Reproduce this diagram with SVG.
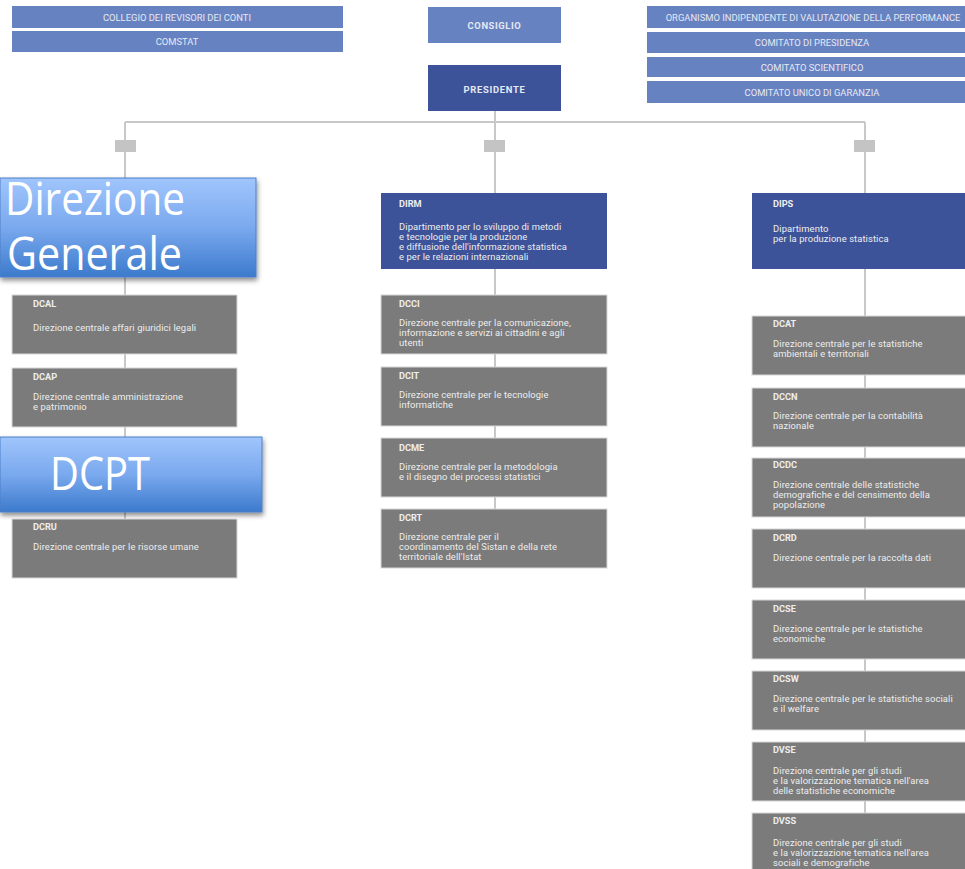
<svg xmlns="http://www.w3.org/2000/svg" width="965" height="869" viewBox="0 0 965 869">
<defs>
<linearGradient id="gb" x1="0" y1="0" x2="0" y2="1">
<stop offset="0" stop-color="#a0c5fc"/>
<stop offset="0.5" stop-color="#7aa9ee"/>
<stop offset="1" stop-color="#3c7acc"/>
</linearGradient>
<filter id="sh" x="-10%" y="-10%" width="120%" height="130%">
<feDropShadow dx="1" dy="3" stdDeviation="2.5" flood-color="#000" flood-opacity="0.45"/>
</filter>
</defs>
<style>
.top{fill:#6682c1}
.pres{fill:#3d5399}
.dep{fill:#3d5399}
.box{fill:#7b7b7b;stroke:#d8d8d8;stroke-width:1}
.conn{stroke:#c8c8c8;stroke-width:2;fill:none}
.knot{fill:#c4c4c4}
.tt{font-family:Roboto,"Liberation Sans",sans-serif;font-size:9.4px;fill:#e6e9f3;text-anchor:middle}
.code{font-family:Roboto,"Liberation Sans",sans-serif;font-size:9.2px;font-weight:bold;fill:#eeeeee}
.desc{font-family:Roboto,"Liberation Sans",sans-serif;font-size:9.4px;letter-spacing:0.1px;fill:#eeeeee}
.big{font-family:"Open Sans","Liberation Sans",sans-serif;font-size:45px;fill:#ffffff}
.gbox{fill:url(#gb);stroke:#4d80c8;stroke-width:1}
</style>
<rect width="965" height="869" fill="#ffffff"/>

<g id="connectors">
<path class="conn" d="M495 111 V122 M125 122 H865 M125 122 V578 M495 122 V568 M865 122 V869"/>
<rect class="knot" x="115" y="140" width="21" height="12"/>
<rect class="knot" x="484" y="140" width="21" height="12"/>
<rect class="knot" x="854" y="140" width="21" height="12"/>
</g>

<g id="collegio"><rect class="top" x="12" y="6" width="331" height="22"/><text class="tt" x="177" y="20.5">COLLEGIO DEI REVISORI DEI CONTI</text></g>
<g id="comstat"><rect class="top" x="12" y="31" width="331" height="21"/><text class="tt" x="177" y="45">COMSTAT</text></g>
<g id="consiglio"><rect class="top" x="428" y="7" width="133" height="36"/><text class="tt" x="494.5" y="29" font-weight="bold" font-size="9.8" letter-spacing="0.6">CONSIGLIO</text></g>
<g id="presidente"><rect class="pres" x="428" y="65" width="133" height="46"/><text class="tt" x="494.5" y="93" font-weight="bold" font-size="11.2" letter-spacing="0.7">PRESIDENTE</text></g>
<g id="oiv"><rect class="top" x="647" y="6" width="318" height="22"/><text class="tt" x="813" y="20.5">ORGANISMO INDIPENDENTE DI VALUTAZIONE DELLA PERFORMANCE</text></g>
<g id="presidenza"><rect class="top" x="647" y="32" width="318" height="21"/><text class="tt" x="812" y="46">COMITATO DI PRESIDENZA</text></g>
<g id="scientifico"><rect class="top" x="647" y="57" width="318" height="20"/><text class="tt" x="812" y="70.5">COMITATO SCIENTIFICO</text></g>
<g id="garanzia"><rect class="top" x="647" y="81" width="318" height="22"/><text class="tt" x="812" y="95.5">COMITATO UNICO DI GARANZIA</text></g>

<g id="dg"><rect class="gbox" x="0" y="178" width="256" height="99" filter="url(#sh)"/><text class="big" x="5" y="215" textLength="180" lengthAdjust="spacingAndGlyphs">Direzione</text><text class="big" x="7" y="270" textLength="175" lengthAdjust="spacingAndGlyphs">Generale</text></g>
<g id="dcal"><rect class="box" x="12" y="295" width="225" height="59"/><text class="code" x="33" y="307">DCAL</text><text class="desc" x="33" y="331">Direzione centrale affari giuridici legali</text></g>
<g id="dcap"><rect class="box" x="12" y="368" width="225" height="59"/><text class="code" x="33" y="380">DCAP</text><text class="desc" x="33" y="400">Direzione centrale amministrazione</text><text class="desc" x="33" y="410">e patrimonio</text></g>
<g id="dcpt"><rect class="gbox" x="0" y="437" width="262" height="75" filter="url(#sh)"/><text class="big" x="50" y="490" font-size="42" textLength="100" lengthAdjust="spacingAndGlyphs">DCPT</text></g>
<g id="dcru"><rect class="box" x="12" y="519" width="225" height="59"/><text class="code" x="33" y="530">DCRU</text><text class="desc" x="33" y="550">Direzione centrale per le risorse umane</text></g>

<g id="dirm"><rect class="dep" x="381" y="193" width="226" height="76"/><text class="code" x="399" y="207">DIRM</text><text class="desc" x="399" y="230">Dipartimento per lo sviluppo di metodi</text><text class="desc" x="399" y="240">e tecnologie per la produzione</text><text class="desc" x="399" y="250">e diffusione dell'informazione statistica</text><text class="desc" x="399" y="260">e per le relazioni internazionali</text></g>
<g id="dcci"><rect class="box" x="381" y="295" width="226" height="59"/><text class="code" x="399" y="307">DCCI</text><text class="desc" x="399" y="326">Direzione centrale per la comunicazione,</text><text class="desc" x="399" y="336">informazione e servizi ai cittadini e agli</text><text class="desc" x="399" y="346">utenti</text></g>
<g id="dcit"><rect class="box" x="381" y="367" width="226" height="59"/><text class="code" x="399" y="379">DCIT</text><text class="desc" x="399" y="398">Direzione centrale per le tecnologie</text><text class="desc" x="399" y="408">informatiche</text></g>
<g id="dcme"><rect class="box" x="381" y="438" width="226" height="59"/><text class="code" x="399" y="451">DCME</text><text class="desc" x="399" y="470">Direzione centrale per la metodologia</text><text class="desc" x="399" y="480">e il disegno dei processi statistici</text></g>
<g id="dcrt"><rect class="box" x="381" y="509" width="226" height="59"/><text class="code" x="399" y="521">DCRT</text><text class="desc" x="399" y="540">Direzione centrale per il</text><text class="desc" x="399" y="550">coordinamento del Sistan e della rete</text><text class="desc" x="399" y="560">territoriale dell'Istat</text></g>

<g id="dips"><rect class="dep" x="752" y="193" width="213" height="76"/><text class="code" x="773" y="207">DIPS</text><text class="desc" x="773" y="232">Dipartimento</text><text class="desc" x="773" y="242">per la produzione statistica</text></g>
<g id="dcat"><rect class="box" x="752" y="316" width="214" height="59"/><text class="code" x="773" y="327">DCAT</text><text class="desc" x="773" y="347">Direzione centrale per le statistiche</text><text class="desc" x="773" y="357">ambientali e territoriali</text></g>
<g id="dccn"><rect class="box" x="752" y="388" width="214" height="59"/><text class="code" x="773" y="400">DCCN</text><text class="desc" x="773" y="419">Direzione centrale per la contabilità</text><text class="desc" x="773" y="429">nazionale</text></g>
<g id="dcdc"><rect class="box" x="752" y="458" width="214" height="59"/><text class="code" x="773" y="468">DCDC</text><text class="desc" x="773" y="488">Direzione centrale delle statistiche</text><text class="desc" x="773" y="498">demografiche e del censimento della</text><text class="desc" x="773" y="508">popolazione</text></g>
<g id="dcrd"><rect class="box" x="752" y="529" width="214" height="59"/><text class="code" x="773" y="541">DCRD</text><text class="desc" x="773" y="561">Direzione centrale per la raccolta dati</text></g>
<g id="dcse"><rect class="box" x="752" y="600" width="214" height="59"/><text class="code" x="773" y="612">DCSE</text><text class="desc" x="773" y="632">Direzione centrale per le statistiche</text><text class="desc" x="773" y="642">economiche</text></g>
<g id="dcsw"><rect class="box" x="752" y="671" width="214" height="59"/><text class="code" x="773" y="682">DCSW</text><text class="desc" x="773" y="702">Direzione centrale per le statistiche sociali</text><text class="desc" x="773" y="712">e il welfare</text></g>
<g id="dvse"><rect class="box" x="752" y="742" width="214" height="59"/><text class="code" x="773" y="753">DVSE</text><text class="desc" x="773" y="774">Direzione centrale per gli studi</text><text class="desc" x="773" y="784">e la valorizzazione tematica nell'area</text><text class="desc" x="773" y="794">delle statistiche economiche</text></g>
<g id="dvss"><rect class="box" x="752" y="813" width="214" height="60"/><text class="code" x="773" y="824">DVSS</text><text class="desc" x="773" y="846">Direzione centrale per gli studi</text><text class="desc" x="773" y="856">e la valorizzazione tematica nell'area</text><text class="desc" x="773" y="866">sociali e demografiche</text></g>
</svg>
